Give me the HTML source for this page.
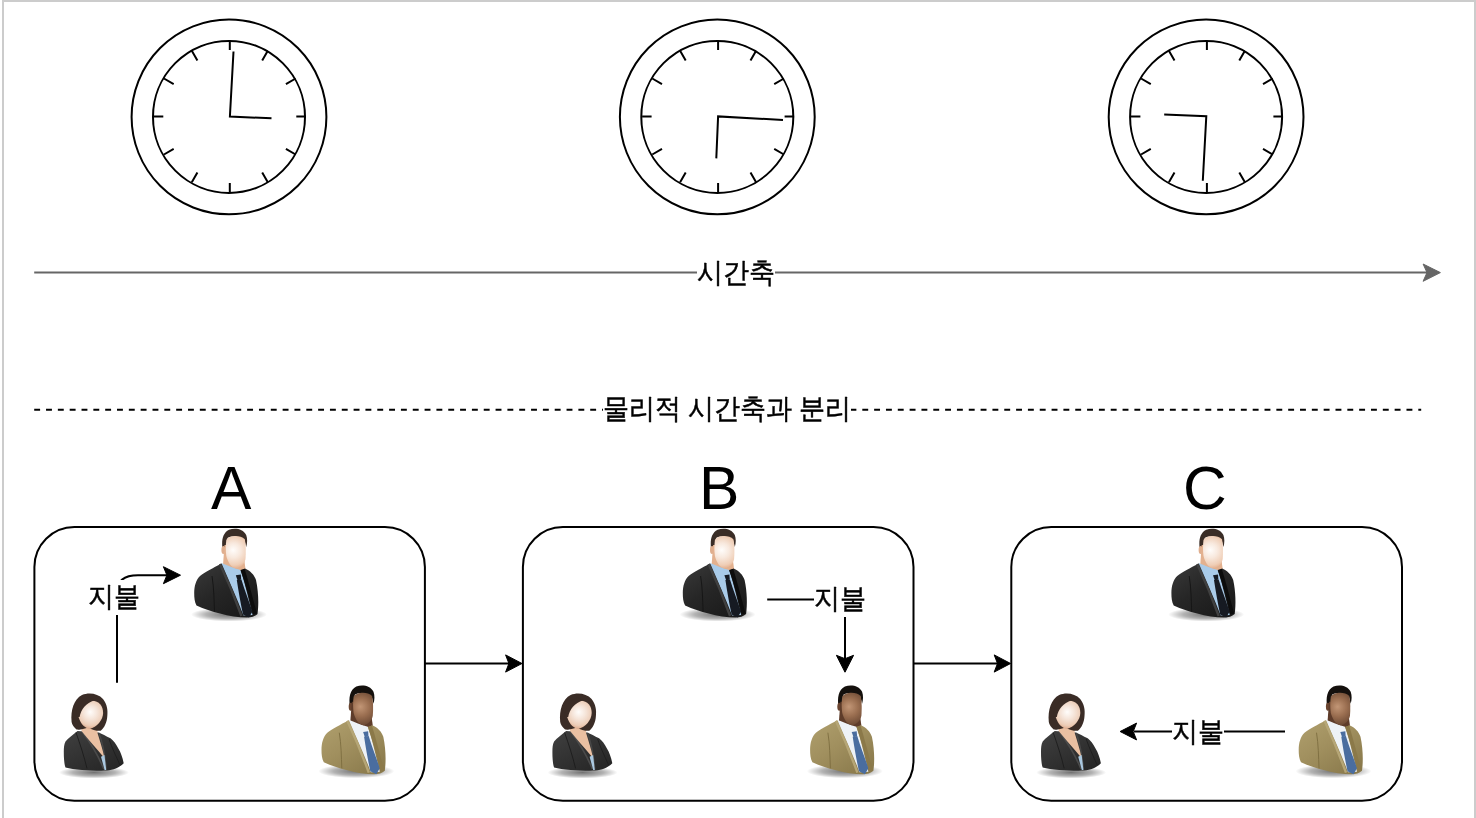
<!DOCTYPE html>
<html>
<head>
<meta charset="utf-8">
<style>
html,body{margin:0;padding:0;background:#fff;}
body{width:1476px;height:818px;position:relative;overflow:hidden;font-family:"Liberation Sans",sans-serif;}
#frame{position:absolute;left:0;top:0;width:1476px;height:818px;}
.lbl{position:absolute;white-space:nowrap;background:#fff;color:#000;font-family:"Liberation Sans",sans-serif;line-height:1;-webkit-text-stroke:0.45px #000;will-change:transform;}
.k{display:inline-block;transform:scaleY(1.075);}
.big{position:absolute;white-space:nowrap;color:#000;font-family:"Liberation Sans",sans-serif;line-height:1;will-change:transform;}
</style>
</head>
<body>
<svg id="frame" width="1476" height="818" viewBox="0 0 1476 818">
<defs>
  <g id="clock" fill="none" stroke="#000" stroke-width="2">
    <circle cx="0" cy="0" r="97.4"/>
    <circle cx="0" cy="0" r="76"/>
    <path transform="translate(0.8,-0.4)" d="M0.00,-76.00L0.00,-66.50 M38.00,-65.82L32.40,-56.12 M65.82,-38.00L56.12,-32.40 M76.00,-0.00L66.50,-0.00 M65.82,38.00L56.12,32.40 M38.00,65.82L32.40,56.12 M0.00,76.00L0.00,66.50 M-38.00,65.82L-32.40,56.12 M-65.82,38.00L-56.12,32.40 M-76.00,0.00L-66.50,0.00 M-65.82,-38.00L-56.12,-32.40 M-38.00,-65.82L-32.40,-56.12"/>
  </g>
</defs>
<!-- frame border -->
<rect x="2" y="0" width="1474" height="2" fill="#cccccc"/>
<rect x="2" y="0" width="2" height="818" fill="#cccccc"/>
<rect x="1474" y="0" width="2" height="818" fill="#cccccc"/>

<!-- clocks -->
<use href="#clock" x="229" y="116.9"/>
<use href="#clock" x="717.3" y="116.9"/>
<use href="#clock" x="1206.1" y="116.9"/>
<g fill="none" stroke="#000" stroke-width="2" stroke-linejoin="miter">
  <path d="M233.5,51.5L229.9,116.5L271.5,118.3"/>
  <path d="M783,120L718.1,116.4L716.3,158.4"/>
  <path d="M1164.2,114.5L1206.3,116.3L1202.8,180.7"/>
</g>

<!-- time axis -->
<path d="M34.2,272.6H1428" stroke="#666" stroke-width="2" fill="none"/>
<path d="M1440.4,272.6L1423.1,264L1427,272.6L1423.1,281.3Z" fill="#666" stroke="#666" stroke-width="1"/>

<!-- dashed separator -->
<path d="M34.2,409.8H1421.2" stroke="#000" stroke-width="2" stroke-dasharray="5.9 5.93" fill="none"/>

<!-- boxes -->
<g fill="none" stroke="#000" stroke-width="2">
  <rect x="34.4" y="527" width="390.5" height="273.8" rx="40" ry="40"/>
  <rect x="522.9" y="527" width="390.6" height="273.8" rx="40" ry="40"/>
  <rect x="1011.3" y="527" width="390.7" height="273.8" rx="40" ry="40"/>
</g>
<!-- box arrows -->
<g stroke="#000" stroke-width="2" fill="none">
  <path d="M424.9,663.5H510"/>
  <path d="M913.5,663.5H998.5"/>
</g>
<g fill="#000" stroke="#000" stroke-width="1">
  <path d="M522,663.5L505.6,654.9L508.9,663.5L505.6,672.1Z"/>
  <path d="M1010.6,663.5L994.2,654.9L997.5,663.5L994.2,672.1Z"/>
</g>

<!-- payment edges -->
<g stroke="#000" stroke-width="2" fill="none">
  <path d="M117,682.8V592Q117,575.2 138,575.2H167"/>
  <path d="M767.2,599.5H845V659"/>
  <path d="M1285,731.5H1134"/>
</g>
<g fill="#000" stroke="#000" stroke-width="1">
  <path d="M180.5,575.2L163.4,566.7L166.9,575.2L163.4,583.7Z"/>
  <path d="M845,672.2L836.4,655.3L845,658.7L853.6,655.3Z"/>
  <path d="M1120.1,731.5L1136.6,723.1L1133.2,731.5L1136.6,739.9Z"/>
</g>
</svg>


<svg class="icons" style="position:absolute;left:0;top:0;filter:blur(0.4px)" width="1476" height="818" viewBox="0 0 1476 818">
<defs>
  <radialGradient id="shadowG" cx="0.5" cy="0.5" r="0.5">
    <stop offset="0" stop-color="#000" stop-opacity="0.55"/>
    <stop offset="0.6" stop-color="#000" stop-opacity="0.3"/>
    <stop offset="1" stop-color="#000" stop-opacity="0"/>
  </radialGradient>
  <radialGradient id="faceW" gradientUnits="userSpaceOnUse" cx="234" cy="551" r="18" fx="233" fy="550">
    <stop offset="0" stop-color="#fffdfb"/>
    <stop offset="0.4" stop-color="#f8e9de"/>
    <stop offset="0.8" stop-color="#efcdb5"/>
    <stop offset="1" stop-color="#e3ae8c"/>
  </radialGradient>
  <radialGradient id="faceD" gradientUnits="userSpaceOnUse" cx="234" cy="551" r="18" fx="233" fy="550">
    <stop offset="0" stop-color="#c29676"/>
    <stop offset="0.5" stop-color="#9a6e50"/>
    <stop offset="1" stop-color="#6a4833"/>
  </radialGradient>
  <radialGradient id="faceF" gradientUnits="userSpaceOnUse" cx="91" cy="713" r="16" fx="90" fy="712">
    <stop offset="0" stop-color="#fffdfb"/>
    <stop offset="0.4" stop-color="#f6e6db"/>
    <stop offset="0.8" stop-color="#ecccb6"/>
    <stop offset="1" stop-color="#deaa8c"/>
  </radialGradient>
  <linearGradient id="jacketK" x1="0" y1="0" x2="0.8" y2="1">
    <stop offset="0" stop-color="#3a3a3a"/>
    <stop offset="0.5" stop-color="#262626"/>
    <stop offset="1" stop-color="#1a1a1a"/>
  </linearGradient>
  <linearGradient id="jacketT" x1="0" y1="0" x2="0.8" y2="1">
    <stop offset="0" stop-color="#b0a06e"/>
    <stop offset="0.5" stop-color="#a08f5e"/>
    <stop offset="1" stop-color="#8a7a4c"/>
  </linearGradient>
  <linearGradient id="jacketF" x1="0" y1="0" x2="0.8" y2="1">
    <stop offset="0" stop-color="#404040"/>
    <stop offset="0.5" stop-color="#333333"/>
    <stop offset="1" stop-color="#262626"/>
  </linearGradient>

  <g id="manS">
    <ellipse cx="229" cy="614.5" rx="38" ry="7" fill="url(#shadowG)"/>
    <path d="M222.6,550 C221.3,541 222.5,533 229,529.8 C235,527.6 243,528.8 246.2,535 C247.6,539 247.3,543 246.2,547 L244.5,540 C240,536.5 232,535.5 227.5,538 L226.5,550 Z" fill="#3a2d26"/>
    <ellipse cx="223.4" cy="550" rx="2" ry="4" fill="#dfae8e"/>
    <path d="M224.5,545 L228,545 L244,558 L245.5,569 L238,573 L223,565 Z" fill="#e3b18f"/>
    <path d="M221.4,563.5 C213,568 205,572 200,576 C196,580 194.2,586 194.2,593 C194.2,598 194.6,602 196.5,605.5 C204,609 212,611.5 220,613.5 C229,616 238,617.5 247,617.5 C251,617.5 255,616.5 257.5,614 C258.8,605 258.6,592 256,580 C254,574.5 250.5,571 245,568.5 L238,572 Z" fill="url(#jacketK)"/>
    <path d="M212,576 C214,588 214,600 214.5,611.5" stroke="#141414" stroke-width="0.9" fill="none"/>
    <path d="M221.4,563 C227,565.5 234,568 240.5,570 C244,580 247,592 252.5,615 L243.5,615.5 C237,598 229,581 221.4,563 Z" fill="#a9cbe9"/>
    <path d="M220,564 C228,581 235,598 241.5,616" stroke="#404040" stroke-width="2.4" fill="none"/>
    <path d="M235.8,575.2 L240.8,574.6 L241.2,579.6 L237.6,580.6 Z" fill="#161a22"/>
    <path d="M236.8,580 L241.4,579.4 C244.5,590 249,601 252.5,611.5 L249,617.5 L243,614.5 C240.5,603 238.5,591 236.8,580 Z" fill="#161a22"/>
    <path d="M240.5,570 L244.6,568.8 C248,580 252,595 257,613.5 L253.2,614.5 C249.5,598 245,583 240.5,570 Z" fill="#0c0c0c"/>
    <path d="M226.3,540 C229,535.3 240,534.3 244.8,539.3 C246.1,545 245.9,553 245.5,559 C244.6,564 240.5,568 236,568.6 C231,567.5 227.8,562 226.3,556 C225.6,551 225.6,545 226.3,540 Z" fill="url(#faceW)"/>
  </g>

  <g id="manD">
    <ellipse cx="229" cy="614.5" rx="38" ry="7" fill="url(#shadowG)"/>
    <path d="M222.6,550 C221.3,541 222.5,533 229,529.8 C235,527.6 243,528.8 246.2,535 C247.6,539 247.3,543 246.2,547 L244.5,540 C240,536.5 232,535.5 227.5,538 L226.5,550 Z" fill="#14100d"/>
    <ellipse cx="223.4" cy="550" rx="2" ry="4" fill="#6a4530"/>
    <path d="M224.5,545 L228,545 L244,558 L245.5,569 L238,573 L223,565 Z" fill="#5e3c2a"/>
    <path d="M221.4,563.5 C213,568 205,572 200,576 C196,580 194.2,586 194.2,593 C194.2,598 194.6,602 196.5,605.5 C204,609 212,611.5 220,613.5 C229,616 238,617.5 247,617.5 C251,617.5 255,616.5 257.5,614 C258.8,605 258.6,592 256,580 C254,574.5 250.5,571 245,568.5 L238,572 Z" fill="url(#jacketT)"/>
    <path d="M212,576 C214,588 214,600 214.5,611.5" stroke="#7d6d40" stroke-width="0.9" fill="none"/>
    <path d="M221.4,563 C227,565.5 234,568 240.5,570 C244,580 247,592 252.5,615 L243.5,615.5 C237,598 229,581 221.4,563 Z" fill="#eef2f6"/>
    <path d="M220,564 C228,581 235,598 241.5,616" stroke="#b6a676" stroke-width="2.4" fill="none"/>
    <path d="M235.8,575.2 L240.8,574.6 L241.2,579.6 L237.6,580.6 Z" fill="#4a6d9f"/>
    <path d="M236.8,580 L241.4,579.4 C244.5,590 249,601 252.5,611.5 L249,617.5 L243,614.5 C240.5,603 238.5,591 236.8,580 Z" fill="#4a6d9f"/>
    <path d="M240.5,570 L244.6,568.8 C248,580 252,595 257,613.5 L253.2,614.5 C249.5,598 245,583 240.5,570 Z" fill="#8b7949"/>
    <path d="M226.3,540 C229,535.3 240,534.3 244.8,539.3 C246.1,545 245.9,553 245.5,559 C244.6,564 240.5,568 236,568.6 C231,567.5 227.8,562 226.3,556 C225.6,551 225.6,545 226.3,540 Z" fill="url(#faceD)"/>
  </g>

  <g id="woman">
    <ellipse cx="94" cy="772.5" rx="35" ry="6" fill="url(#shadowG)"/>
    <path d="M77.5,731 C73,735 68,738 65.5,741.5 C64,744 63.8,748 63.8,752 C63.8,758 64.2,764 65.5,767.5 C75,770 95,771 107,770.6 C113,770 119,768 123.7,763.3 C122.5,757 120.5,752 118.6,749 C116,744 113.5,740.5 110.5,738.3 C106,736 102,734 98.8,732.5 Z" fill="url(#jacketF)"/>
    <path d="M76,732.5 C80,744 84,756 87,768.4" stroke="#1c1c1c" stroke-width="0.9" fill="none"/>
    <path d="M82,731.5 C90,742 98,755 103.8,769" stroke="#4a4a4a" stroke-width="1.6" fill="none"/>
    <path d="M99,733 C103,744 105,756 106.2,769.5" stroke="#474747" stroke-width="1.4" fill="none"/>
    <path d="M109,739 C112,748 116,756 120,765" stroke="#1c1c1c" stroke-width="0.8" fill="none"/>
    <path d="M81.5,724 L97.5,724 L97.5,733 C100,741 102.5,749 104,756 L103.5,757 C96,748 88,739 81.5,731 Z" fill="#eac0a2"/>
    <path d="M101,756.7 L104.5,755 L106.2,769.9 L104.6,770 Z" fill="#aac8e0"/>
    <path d="M71.6,722 C70.5,710 74,699 82,695 C89,692 98,693.5 103,699 C107,704 108,710 107.3,716 C107,722 104.5,728 100.7,730.7 C97,731 92,730 88.6,727.4 L83,729 C80,730 77.5,729.8 76.5,729.6 C74,727 72,725 71.6,722 Z" fill="#3a2c26"/>
    <path d="M78,714 C78,706 84,700.8 92,700.8 C99,701 103.1,706 103.1,713 C103,720 97,727 89.5,729 C84,728 79,722 78,714 Z" fill="url(#faceF)"/>
    <path d="M76,717 L79.6,717 C81,709 86,703 94.5,700.2 L89,697.5 C81,700 76,708 76,717 Z" fill="#3a2c26"/>
  </g>
</defs>
<use href="#manS" x="0" y="0"/>
<use href="#manS" x="488.6" y="0"/>
<use href="#manS" x="977.2" y="0"/>
<use href="#manD" x="127.3" y="156.7"/>
<use href="#manD" x="615.9" y="156.7"/>
<use href="#manD" x="1104.5" y="156.7"/>
<use href="#woman" x="0" y="0"/>
<use href="#woman" x="488.6" y="0"/>
<use href="#woman" x="977.2" y="0"/>
</svg>

<!-- labels -->
<div class="lbl" style="left:697px;top:258.5px;font-size:26px;"><span class="k">시간축</span></div>
<div class="lbl" style="left:603px;top:394.5px;font-size:26px;"><span class="k">물리적 시간축과 분리</span></div>
<div class="big" style="left:211px;top:458px;font-size:60.5px;">A</div>
<div class="big" style="left:698.5px;top:458px;font-size:60.5px;">B</div>
<div class="big" style="left:1183px;top:458px;font-size:60.5px;">C</div>
<div class="lbl" style="left:88px;top:580px;padding:3px 0 6px 0;font-size:26px;"><span class="k">지불</span></div>
<div class="lbl" style="left:814px;top:582px;padding:3px 0 6px 0;font-size:26px;"><span class="k">지불</span></div>
<div class="lbl" style="left:1172px;top:717.5px;font-size:26px;"><span class="k">지불</span></div>
</body>
</html>
